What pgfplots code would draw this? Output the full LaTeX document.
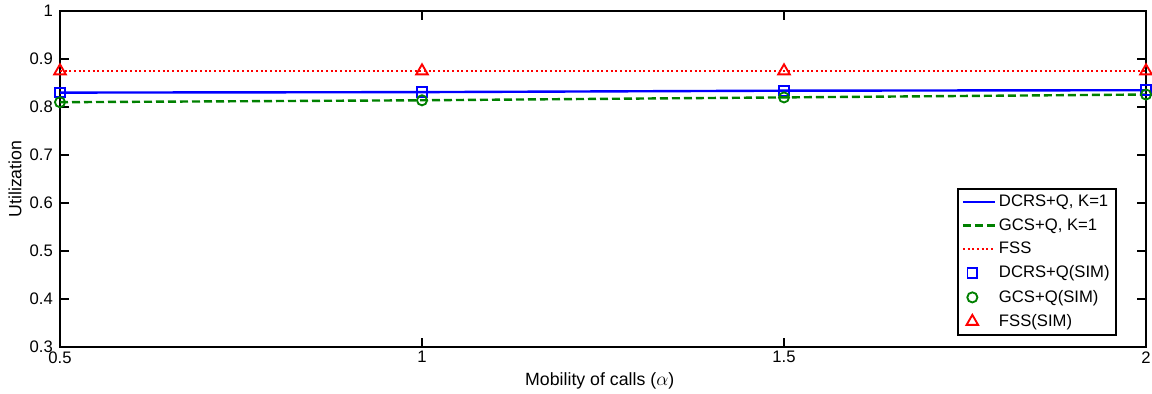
\documentclass[border=0pt]{standalone}
\usepackage{pgfplots}
\pgfplotsset{compat=1.18}
\usepackage{fontspec}
\setmainfont{Liberation Sans}
\definecolor{mblue}{rgb}{0,0,1}
\definecolor{mgreen}{rgb}{0,0.5,0}
\definecolor{mred}{rgb}{1,0,0}
\pgfplotsset{
  lineleg/.style={legend image code/.code={\draw[##1] (0cm,0cm) -- (0.85cm,0cm);}},
  markleg/.style={legend image code/.code={\draw[##1] plot coordinates {(0.25cm,0cm)};}},
}
\begin{document}
\fontsize{12.5}{15}\selectfont
\begin{tikzpicture}
\begin{axis}[
  width=814.5pt, height=252pt, scale only axis,
  xmin=0.5, xmax=2, ymin=0.3, ymax=1,
  xtick={0.5,1,1.5,2}, ytick={0.3,0.4,0.5,0.6,0.7,0.8,0.9,1},
  xticklabels={0.5,1,1.5,2},
  yticklabels={0.3,0.4,0.5,0.6,0.7,0.8,0.9,1},
  tick align=inside, major tick length=7pt,
  tick style={line width=1.6pt, black},
  axis line style={line width=2pt},
  tick label style={font=\fontsize{12.5}{15}\selectfont},
  label style={font=\fontsize{13.3}{16}\selectfont},
  xlabel={Mobility of calls ($\alpha$)},
  ylabel={Utilization},
  xlabel style={at={(axis description cs:0.497,-0.101)}, anchor=center},
  ylabel style={at={(axis description cs:-0.0414,0.5)}, anchor=center},
  yticklabel style={xshift=-1pt},
  xticklabel style={yshift=1pt},
  legend style={at={(0.973,0.033)}, anchor=south east, draw=black, line width=1.6pt,
    font=\fontsize{12.5}{15}\selectfont, row sep=3.2pt, inner sep=2.5pt},
  legend cell align=left,
  lineleg,
]
\addplot[mblue, line width=1.8pt] coordinates {(0.5,0.830) (1,0.831) (1.5,0.834) (2,0.835)};
\addlegendentry{DCRS+Q, K=1}
\addplot[mgreen, line width=1.8pt, dash pattern=on 6pt off 3pt] coordinates {(0.5,0.810) (1,0.814) (1.5,0.820) (2,0.826)};
\addlegendentry{GCS+Q, K=1}
\addplot[mred, line width=1.8pt, dash pattern=on 1.5pt off 2pt] coordinates {(0.5,0.875) (1,0.875) (1.5,0.875) (2,0.875)};
\addlegendentry{FSS}
\addplot[only marks, mark=square, mark size=3.6pt, mblue, mark options={line width=1.4pt}, markleg] coordinates {(0.5,0.830) (1,0.831) (1.5,0.834) (2,0.835)};
\addlegendentry{DCRS+Q(SIM)}
\addplot[only marks, mark=o, mark size=3.8pt, mgreen, mark options={line width=1.4pt}, markleg] coordinates {(0.5,0.810) (1,0.814) (1.5,0.820) (2,0.826)};
\addlegendentry{GCS+Q(SIM)}
\addplot[only marks, mark=triangle, mark size=5pt, mred, mark options={line width=1.4pt}, markleg] coordinates {(0.5,0.875) (1,0.875) (1.5,0.875) (2,0.875)};
\addlegendentry{FSS(SIM)}
\end{axis}
\pgfresetboundingbox
\path ([shift={(-45pt,-35.25pt)}]current axis.south west) rectangle ([shift={(4.5pt,8.25pt)}]current axis.north east);
\end{tikzpicture}
\end{document}
